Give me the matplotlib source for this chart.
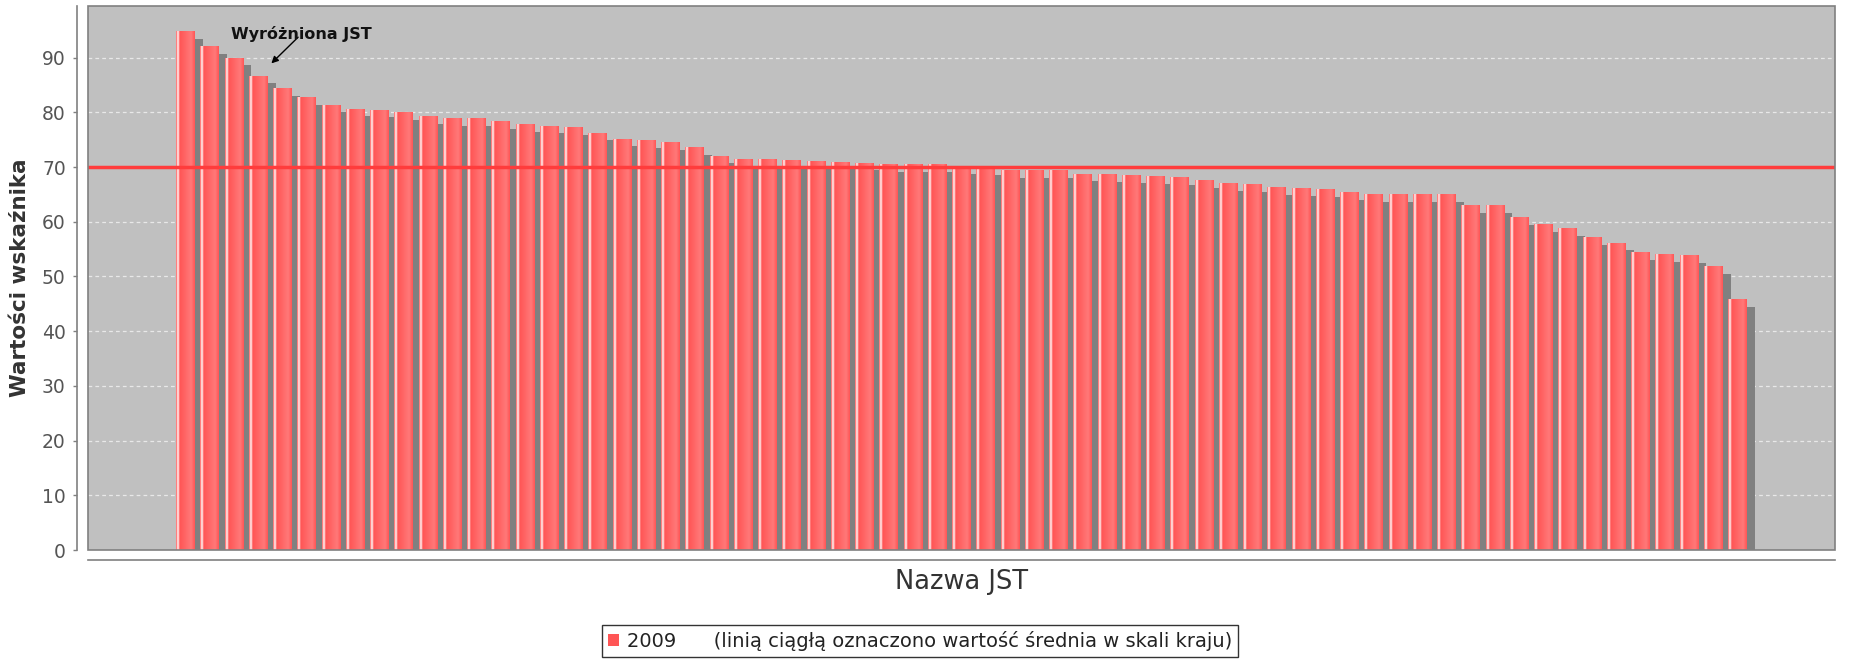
import numpy as np
import matplotlib
matplotlib.use("Agg")
import matplotlib.pyplot as plt
from matplotlib.patches import Rectangle, Patch

# ---- data -------------------------------------------------------------
series_label = "2009"
note_text = "(linią ciągłą oznaczono wartość średnia w skali kraju)"
national_mean = 70.0
highlight_index = 3
highlight_label = "Wyróżniona JST"

values = [94.7, 92.0, 89.9, 86.6, 84.4, 82.7, 81.3, 80.6, 80.4, 80.0,
          79.2, 78.9, 78.8, 78.3, 77.7, 77.5, 77.2, 76.2, 75.1, 74.8,
          74.5, 73.5, 72.0, 71.4, 71.3, 71.2, 71.0, 70.9, 70.7, 70.5,
          70.5, 70.4, 70.0, 69.9, 69.4, 69.4, 69.4, 68.7, 68.6, 68.4,
          68.3, 68.1, 67.5, 66.9, 66.8, 66.2, 66.0, 65.9, 65.3, 65.0,
          65.0, 65.0, 64.9, 62.9, 62.9, 60.8, 59.5, 58.8, 57.1, 56.1,
          54.4, 54.0, 53.8, 51.8, 45.7]
y_ticks = [0, 10, 20, 30, 40, 50, 60, 70, 80, 90]

# ---- styling ----------------------------------------------------------
W, H, DPI = 1854, 664, 100
bar_w = 0.78
base_rgb = np.array([255, 85, 85]) / 255.0
bright_rgb = np.array([255, 121, 121]) / 255.0
white = np.ones(3)

fig = plt.figure(figsize=(W / DPI, H / DPI), dpi=DPI)
ax = fig.add_axes([88 / W, 1 - 550 / H, (1835 - 88) / W, 544 / H])
ax.set_facecolor("#C0C0C0")

n = len(values)
x = np.arange(n)
ymax = max(values) * 1.05
xlim = (-4.02, n - 1 + 4.02)

# dashed grid behind the bars
for t in y_ticks[1:]:
    ax.axhline(t, color="#E8E8E8", lw=0.9, ls=(0, (3, 2.5)), zorder=1)

# bar shadows
ax.bar(x + 0.33, np.array(values) - 1.33, width=bar_w, color="#808080",
       zorder=2, linewidth=0)

# gradient profile across a bar
t = np.linspace(0, 1, 120)
prof = np.zeros((1, t.size, 3))
for i, tt in enumerate(t):
    if tt < 0.1:
        c = base_rgb + (white - base_rgb) * (tt / 0.1)
    elif tt < 0.2:
        c = white + (base_rgb - white) * ((tt - 0.1) / 0.1)
    elif tt < 0.8:
        c = base_rgb + (bright_rgb - base_rgb) * ((tt - 0.2) / 0.6)
    else:
        c = bright_rgb + (base_rgb - bright_rgb) * ((tt - 0.8) / 0.2)
    prof[0, i] = c

for xi, v in zip(x, values):
    ax.imshow(prof, extent=[xi - bar_w / 2, xi + bar_w / 2, 0, v],
              aspect="auto", interpolation="bilinear", zorder=3)
ax.set_xlim(*xlim)
ax.set_ylim(0, ymax)

# national mean line
ax.axhline(national_mean, color="#FF3C3C", lw=2.5, zorder=5)

# pointer to the highlighted unit
hv = values[highlight_index]
ax.annotate("", xy=(highlight_index, hv), xycoords="data",
            xytext=(28.7, 28.1), textcoords="offset points",
            arrowprops=dict(arrowstyle="-|>", color="black", lw=1.0,
                            shrinkA=0, shrinkB=13.2, mutation_scale=10),
            zorder=6)
ax.annotate(highlight_label, xy=(highlight_index, hv), xycoords="data",
            xytext=(30.8, 30.7), textcoords="offset points",
            ha="center", va="center", fontsize=11.5, fontweight="bold",
            color="#111111", zorder=6)

# axes frame and offset axis lines
for s in ["top", "right"]:
    ax.spines[s].set_visible(False)
ax.spines["left"].set_position(("outward", 8))
ax.spines["bottom"].set_position(("outward", 7))
for s in ["left", "bottom"]:
    ax.spines[s].set_color("#808080")
    ax.spines[s].set_linewidth(1.2)
ax.add_patch(Rectangle((0, 0), 1, 1, transform=ax.transAxes, fill=False,
                       edgecolor="#808080", lw=1.2, clip_on=False, zorder=7))

ax.set_yticks(y_ticks)
ax.tick_params(axis="y", length=3, width=1, color="#808080", pad=5,
               labelsize=13.5, labelcolor="#555555")
ax.set_xticks([])

ax.set_ylabel("Wartości wskaźnika", fontsize=15.5, fontweight="bold",
              color="#333333", va="center")
ax.yaxis.set_label_coords(-0.039, 0.5)
ax.set_xlabel("Nazwa JST", fontsize=18.5, color="#333333", va="center")
ax.xaxis.set_label_coords(0.5, -0.0588)

handle = Patch(facecolor="#FF5555", edgecolor="none")
leg = fig.legend([handle], [series_label + "      " + note_text],
                 loc="center", bbox_to_anchor=(920 / W, 1 - 641 / H),
                 fontsize=14, frameon=True, fancybox=False,
                 handlelength=0.6, handleheight=0.6, handletextpad=0.4,
                 borderpad=0.3, borderaxespad=0)
leg.get_frame().set_edgecolor("black")
leg.get_frame().set_linewidth(1.0)
for txt in leg.get_texts():
    txt.set_color("#222222")

fig.savefig("out.png", dpi=DPI)
